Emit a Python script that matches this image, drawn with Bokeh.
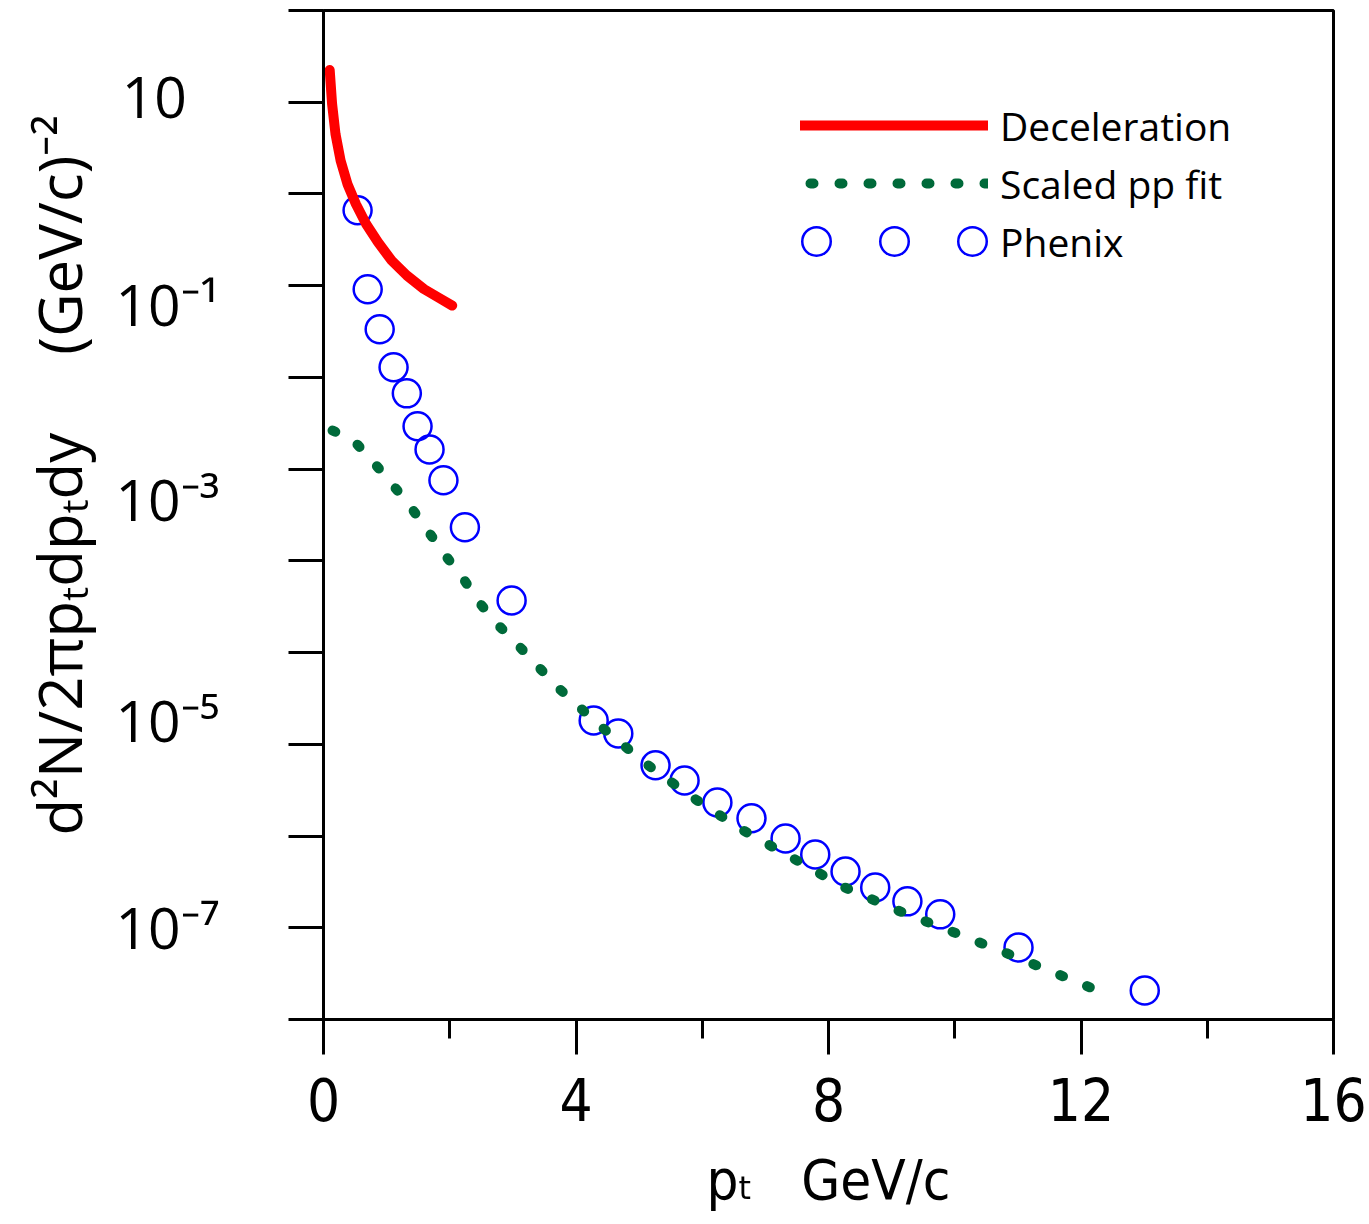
import math
from bokeh.plotting import figure
from bokeh.models import (Range1d, FixedTicker, Legend, LegendItem, Title,
                          CustomJSTickFormatter, ColumnDataSource)
from bokeh.embed import file_html
from bokeh.resources import INLINE

# ---------------- data ----------------
decel_pt = [0.098, 0.136, 0.190, 0.271, 0.379, 0.513, 0.675, 0.864, 1.079,
            1.321, 1.590, 1.833, 2.039]
decel_yield = [22.5, 9.58, 4.51, 2.31, 1.285, 0.778, 0.471, 0.297, 0.188,
               0.129, 0.092, 0.0734, 0.0607]

pp_pt = [0.0, 0.475, 0.792, 1.093, 1.378, 1.648, 1.917, 2.202, 2.455, 2.756,
         3.01, 3.707, 4.372, 5.101, 5.846, 6.622, 7.414, 8.222, 9.061, 9.917,
         10.788, 11.644, 12.15]
pp_yield = [2.93e-3, 2.06e-3, 1.19e-3, 6.8e-4, 3.9e-4, 2.15e-4, 1.18e-4, 6.6e-5,
            3.6e-5, 2.03e-5, 1.36e-5, 4.2e-6, 1.61e-6, 6.2e-7, 2.64e-7, 1.18e-7,
            5.85e-8, 2.82e-8, 1.58e-8, 9.3e-9, 5.4e-9, 3.1e-9, 2.23e-9]

phenix_pt = [0.54, 0.70, 0.89, 1.11, 1.32, 1.49, 1.68, 1.90, 2.24, 2.98,
             4.28, 4.67, 5.26, 5.72, 6.24, 6.78, 7.32, 7.79, 8.27, 8.74,
             9.25, 9.77, 11.01, 13.01]
phenix_yield = [0.664, 0.0914, 0.0335, 0.0129, 6.7e-3, 2.93e-3, 1.64e-3, 7.55e-4,
                2.32e-4, 3.7e-5, 1.82e-6, 1.31e-6, 5.9e-7, 4.04e-7, 2.32e-7,
                1.56e-7, 9.4e-8, 6.3e-8, 4.1e-8, 2.75e-8, 1.94e-8, 1.40e-8,
                6.1e-9, 2.07e-9]

x_ticks = [0, 4, 8, 12, 16]
x_minor_ticks = [2, 6, 10, 14]
y_decade_ticks = [10.0 ** e for e in range(-9, 3)]
y_tick_labels = ["10\u2007", "10\u207b\u00b9", "10\u207b\u00b3", "10\u207b\u2075", "10\u207b\u2077"]
# where the labels sit in the picture (log10 of the axis value)
y_tick_label_exp = [1.065, -1.203, -3.329, -5.739, -7.997]
y_tick_label_pos = [10.0 ** e for e in y_tick_label_exp]

series_names = ["Deceleration", "Scaled pp fit", "Phenix"]
NB = "\u00a0"
x_title = "p\u209c" + NB * 3 + "GeV/c"
y_title = "d\u00b2N/2\u03c0p\u209cdp\u209cdy" + NB * 5 + "(GeV/c)\u207b\u00b2"

# ---------------- styles ----------------
RED = "#ff0000"
GREEN = "#006a3a"
BLUE = "#0000ff"
SANS = "Open Sans"
NARROW = "'Liberation Sans Narrow', 'Arial Narrow', 'DejaVu Sans Condensed', sans-serif"

p = figure(width=1369, height=1224,
           x_range=Range1d(0, 16), y_range=Range1d(1e-9, 1e2),
           y_axis_type="log", output_backend="svg", toolbar_location=None,
           min_border_left=323, min_border_right=36,
           min_border_top=10, min_border_bottom=205)
p.grid.visible = False
p.outline_line_color = "black"
p.outline_line_width = 3
p.background_fill_color = "white"
p.border_fill_color = "white"

# x axis
xa = p.xaxis[0]
xa.ticker = FixedTicker(ticks=x_ticks, minor_ticks=x_minor_ticks)
xa.axis_line_width = 3
xa.axis_line_color = "black"
xa.major_tick_line_width = 3
xa.major_tick_line_color = "black"
xa.major_tick_out = 35
xa.major_tick_in = 0
xa.minor_tick_line_width = 3
xa.minor_tick_line_color = "black"
xa.minor_tick_out = 19
xa.minor_tick_in = 0
xa.major_label_text_font = NARROW
xa.major_label_text_font_size = "58px"
xa.major_label_text_color = "black"
xa.major_label_standoff = 23
xa.axis_label = x_title
xa.axis_label_text_font = NARROW
xa.axis_label_text_font_size = "56px"
xa.axis_label_text_font_style = "normal"
xa.axis_label_text_color = "black"
xa.axis_label_standoff = 23

# y axis: decade ticks drawn as minor ticks, labels where the picture has them
ya = p.yaxis[0]
ya.ticker = FixedTicker(ticks=y_tick_label_pos, minor_ticks=y_decade_ticks)
ya.formatter = CustomJSTickFormatter(
    args=dict(pos=y_tick_label_pos, txt=y_tick_labels),
    code="""
for (let i = 0; i < pos.length; i++) {
  if (Math.abs(Math.log10(tick) - Math.log10(pos[i])) < 1e-6) { return txt[i]; }
}
return '';
""")
ya.axis_line_width = 3
ya.axis_line_color = "black"
ya.major_tick_line_color = None
ya.major_tick_out = 0
ya.major_tick_in = 0
ya.minor_tick_line_width = 3
ya.minor_tick_line_color = "black"
ya.minor_tick_out = 35
ya.minor_tick_in = 0
ya.major_label_text_font = SANS
ya.major_label_text_font_size = "57px"
ya.major_label_text_color = "black"
ya.major_label_standoff = 69

p.add_layout(Title(text=y_title, align="left", offset=184, standoff=26,
                   text_font=SANS, text_font_size="60px",
                   text_font_style="normal", text_color="black"), "left")

# ---------------- data renderers ----------------
p.scatter(phenix_pt, phenix_yield, marker="circle", size=28,
          fill_color=None, line_color=BLUE, line_width=2.5)

r_pp = p.line(pp_pt, pp_yield, line_color=GREEN, line_width=10,
              line_dash="3 26", line_dash_offset=19,
              line_cap="round", line_join="round")

r_dec = p.line(decel_pt, decel_yield, line_color=RED, line_width=10,
               line_cap="round", line_join="round")

# legend sample for Phenix: a row of three open circles
nothing = ColumnDataSource(data=dict(x=[float("nan")], y=[float("nan")]))
r_ring_out = p.line("x", "y", source=nothing, line_color=BLUE, line_width=31,
                    line_dash="0 78", line_dash_offset=62, line_cap="round")
r_ring_in = p.line("x", "y", source=nothing, line_color="white", line_width=26,
                   line_dash="0 78", line_dash_offset=62, line_cap="round")

legend = Legend(items=[
    LegendItem(label=series_names[0], renderers=[r_dec]),
    LegendItem(label=series_names[1], renderers=[r_pp]),
    LegendItem(label=series_names[2], renderers=[r_ring_out, r_ring_in]),
], location=(477, 751), glyph_width=188, glyph_height=54, label_height=54,
    label_standoff=12, spacing=4, padding=0, margin=0,
    border_line_color=None, background_fill_alpha=0,
    label_text_font=SANS, label_text_font_size="39px", label_text_color="black")
p.add_layout(legend)

open("out.html", "w").write(file_html(p, INLINE))
